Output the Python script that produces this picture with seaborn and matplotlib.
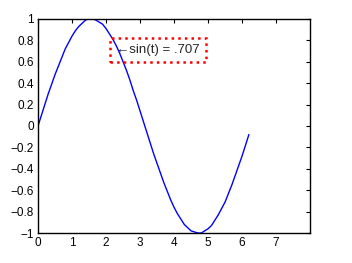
import matplotlib
matplotlib.use("Agg")
import matplotlib.pyplot as plt
import seaborn as sns
import pandas as pd

t_values = [round(0.1 * i, 1) for i in range(63)]
sin_values = [0.00, 0.10, 0.20, 0.30, 0.39, 0.48, 0.56, 0.64, 0.72, 0.78,
              0.84, 0.89, 0.93, 0.96, 0.99, 1.00, 1.00, 0.99, 0.97, 0.95,
              0.91, 0.86, 0.81, 0.75, 0.68, 0.60, 0.52, 0.43, 0.33, 0.24,
              0.14, 0.04, -0.06, -0.16, -0.26, -0.35, -0.44, -0.53, -0.61, -0.69,
              -0.76, -0.82, -0.87, -0.92, -0.95, -0.98, -0.99, -1.00, -1.00, -0.98,
              -0.96, -0.93, -0.88, -0.83, -0.77, -0.71, -0.63, -0.55, -0.46, -0.37,
              -0.28, -0.18, -0.08]
x_ticks = [0, 1, 2, 3, 4, 5, 6, 7]
y_ticks = [-1, -0.8, -0.6, -0.4, -0.2, 0, 0.2, 0.4, 0.6, 0.8, 1]
y_tick_labels = ["\u22121", "\u22120.8", "\u22120.6", "\u22120.4", "\u22120.2", "0",
                 "0.2", "0.4", "0.6", "0.8", "1"]
annot_text = "\u2190sin(t) = .707"
annot_x, annot_y = 2.3, 0.707

sns.set_style("white")
plt.rcParams['font.family'] = ['Liberation Sans', 'DejaVu Sans']

fig = plt.figure(figsize=(3.52, 2.63), dpi=100)
ax = fig.add_axes([0.108, 0.114, 0.773, 0.814])
df = pd.DataFrame({"t": t_values, "y": sin_values})
sns.lineplot(data=df, x="t", y="y", ax=ax, color="#0000ff", linewidth=1.0)
ax.set_xlim(0, 8)
ax.set_ylim(-1, 1)
ax.set_xticks(x_ticks)
ax.set_xticklabels([str(v) for v in x_ticks])
ax.set_yticks(y_ticks)
ax.set_yticklabels(y_tick_labels)
ax.set_xlabel("")
ax.set_ylabel("")
ax.tick_params(direction="in", length=3, width=0.8, top=True, right=True,
               labelsize=8.5, colors="black", pad=3)
for s in ax.spines.values():
    s.set_visible(True)
    s.set_color("black")
    s.set_linewidth(1.0)
ax.text(annot_x, annot_y, annot_text, fontsize=9.5, va="center", ha="left",
        bbox=dict(boxstyle="square,pad=0.45", facecolor="none", edgecolor="red",
                  linestyle=":", linewidth=1.8))
fig.savefig("out.png", dpi=100)
